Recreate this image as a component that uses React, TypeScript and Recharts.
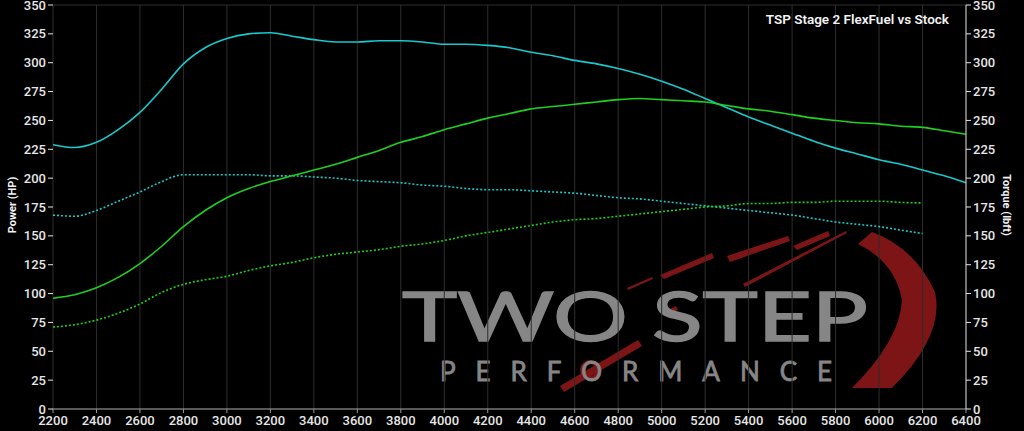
import React from 'react';
import { LineChart, Line, XAxis, YAxis, CartesianGrid } from 'recharts';

// engine speed (rpm)
const rpm = [
  2200, 2300, 2400, 2500, 2600, 2700, 2800, 2900, 3000, 3100, 3200, 3300, 3400, 3500, 3600,
  3700, 3800, 3900, 4000, 4100, 4200, 4300, 4400, 4500, 4600, 4700, 4800, 4900, 5000, 5100,
  5200, 5300, 5400, 5500, 5600, 5700, 5800, 5900, 6000, 6100, 6200, 6300, 6400,
];

// TSP Stage 2 FlexFuel
const stage2Torque = [
  229, 226.5, 231, 242, 257, 277, 299, 313, 321, 325, 326, 323, 320, 318, 318,
  319, 319, 318, 316, 316, 315, 313, 309, 306, 302, 299, 295, 290, 284, 277,
  269, 261, 253, 246, 239, 232, 226, 221, 216, 212, 207, 202, 196,
];
const stage2Power = [
  96, 99, 105, 114, 126, 141, 158, 172, 183, 191, 197, 202, 207, 212, 218,
  224, 231, 236, 242, 247, 252, 256, 260, 262, 264, 266, 268, 269, 268, 267,
  266, 263, 260, 258, 255, 252, 250, 248, 247, 245, 244, 241, 238,
];

// Stock (run stops at 6200)
const stockTorque = [
  168, 167, 172, 180, 188, 197, 203, 203, 203, 203, 202, 202, 201, 200, 198,
  197, 196, 194, 193, 191, 190, 190, 189, 188, 187, 185, 183, 182, 180, 178,
  176, 174, 172, 170, 168, 165, 162, 160, 158, 155, 152, null, null,
];
const stockPower = [
  71, 73, 77, 83, 91, 101, 108, 112, 115, 120, 124, 127, 131, 134, 136,
  138, 141, 143, 146, 150, 153, 156, 159, 162, 164, 165, 167, 169, 171, 173,
  175, 176, 178, 178, 179, 179, 180, 180, 180, 179, 178.5, null, null,
];

const xTicks = [
  2200, 2400, 2600, 2800, 3000, 3200, 3400, 3600, 3800, 4000, 4200,
  4400, 4600, 4800, 5000, 5200, 5400, 5600, 5800, 6000, 6200, 6400,
];
const yTicks = [0, 25, 50, 75, 100, 125, 150, 175, 200, 225, 250, 275, 300, 325, 350];

const data = rpm.map((r, i) => ({
  rpm: r,
  s2Torque: stage2Torque[i],
  s2Power: stage2Power[i],
  stockTorque: stockTorque[i],
  stockPower: stockPower[i],
}));

const CYAN = '#19c9cc';
const GREEN = '#1fd01f';
const LOGO_RED = '#7d1517';
const LOGO_GREY = '#868686';
const tickStyle = { fill: '#e6e6e6', fontSize: 13, fontWeight: 500, fontFamily: 'Roboto, sans-serif' };

const App: React.FC = () => {
  return (
    <div style={{ position: 'absolute', left: 0, top: 0, width: 1024, height: 431, background: '#000', overflow: 'hidden' }}>
      {/* watermark logo, sits behind the chart */}
      <svg width={1024} height={431} style={{ position: 'absolute', left: 0, top: 0 }}>
        <g fill={LOGO_RED}>
          <path d="M872,232 Q915,248 935,292 Q945,335 892,388 L852,388 Q900,340 902,300 Q895,262 858,244 Z" />
          <polygon points="660,275 712,253 714,258 664,279" />
          <polygon points="727,256 788,236 790,241 730,262" />
          <polygon points="793,246 828,231 830,236 797,250" />
          <polygon points="743,284 846,231 847,233 745,287" />
          <polygon points="627,288 652,277 653,279 628,290" />
          <polygon points="662,313 676,306 678,310 664,316" />
          <polygon points="560,386 638,340 642,346 564,392" />
        </g>
        <circle cx={590} cy={370} r={8} fill="none" stroke={LOGO_RED} strokeWidth={4} />
        <text x={402} y={341} fontSize={68} fontFamily="Lato, 'Open Sans', sans-serif" fontWeight={400}
          fill={LOGO_GREY} stroke={LOGO_GREY} strokeWidth={1.5}
          textLength={466} lengthAdjust="spacingAndGlyphs">TWO STEP</text>
        <text x={440} y={381} fontSize={26} fontFamily="Lato, 'Open Sans', sans-serif" fontWeight={400}
          fill={LOGO_GREY} stroke={LOGO_GREY} strokeWidth={0.8}
          textLength={392} lengthAdjust="spacing">PERFORMANCE</text>
      </svg>

      <div style={{ position: 'absolute', left: 0, top: 0 }}>
        <LineChart width={1024} height={431} data={data} margin={{ top: 5, right: 0, bottom: 0, left: 0 }}>
          <CartesianGrid stroke="#2e2e2e" strokeWidth={1} />
          <XAxis
            dataKey="rpm"
            type="number"
            domain={[2200, 6400]}
            ticks={xTicks}
            interval={0}
            height={22}
            tick={tickStyle}
            tickSize={4}
            tickMargin={3}
            axisLine={{ stroke: '#9a9a9a' }}
            tickLine={{ stroke: '#9a9a9a' }}
          />
          <YAxis
            yAxisId="hp"
            orientation="left"
            width={53}
            domain={[0, 350]}
            ticks={yTicks}
            interval={0}
            tick={tickStyle}
            tickSize={5}
            tickMargin={2}
            axisLine={false}
            tickLine={{ stroke: '#e6e6e6' }}
          />
          <YAxis
            yAxisId="tq"
            orientation="right"
            width={58}
            domain={[0, 350]}
            ticks={yTicks}
            interval={0}
            tick={tickStyle}
            tickSize={5}
            tickMargin={2}
            axisLine={{ stroke: '#d0d0d0' }}
            tickLine={{ stroke: '#e6e6e6' }}
          />
          <Line yAxisId="tq" type="monotone" dataKey="stockTorque" stroke={CYAN} strokeWidth={1.6}
            strokeDasharray="2 2" dot={false} isAnimationActive={false} />
          <Line yAxisId="hp" type="monotone" dataKey="stockPower" stroke={GREEN} strokeWidth={1.6}
            strokeDasharray="2 2" dot={false} isAnimationActive={false} />
          <Line yAxisId="tq" type="monotone" dataKey="s2Torque" stroke={CYAN} strokeWidth={1.6}
            dot={false} isAnimationActive={false} />
          <Line yAxisId="hp" type="monotone" dataKey="s2Power" stroke={GREEN} strokeWidth={1.6}
            dot={false} isAnimationActive={false} />
        </LineChart>
      </div>

      {/* title and axis titles */}
      <svg width={1024} height={431} style={{ position: 'absolute', left: 0, top: 0, pointerEvents: 'none' }}>
        <text x={949} y={24} textAnchor="end" fontSize={13.5} fontWeight={600}
          fontFamily="Roboto, sans-serif" fill="#f2f2f2">TSP Stage 2 FlexFuel vs Stock</text>
        <text transform="translate(16,205) rotate(-90)" textAnchor="middle" fontSize={11} fontWeight={700}
          fontFamily="Roboto, sans-serif" fill="#f2f2f2">Power (HP)</text>
        <text transform="translate(1003,205) rotate(90)" textAnchor="middle" fontSize={11} fontWeight={700}
          fontFamily="Roboto, sans-serif" fill="#f2f2f2">Torque (lbft)</text>
      </svg>
    </div>
  );
};

export default App;
